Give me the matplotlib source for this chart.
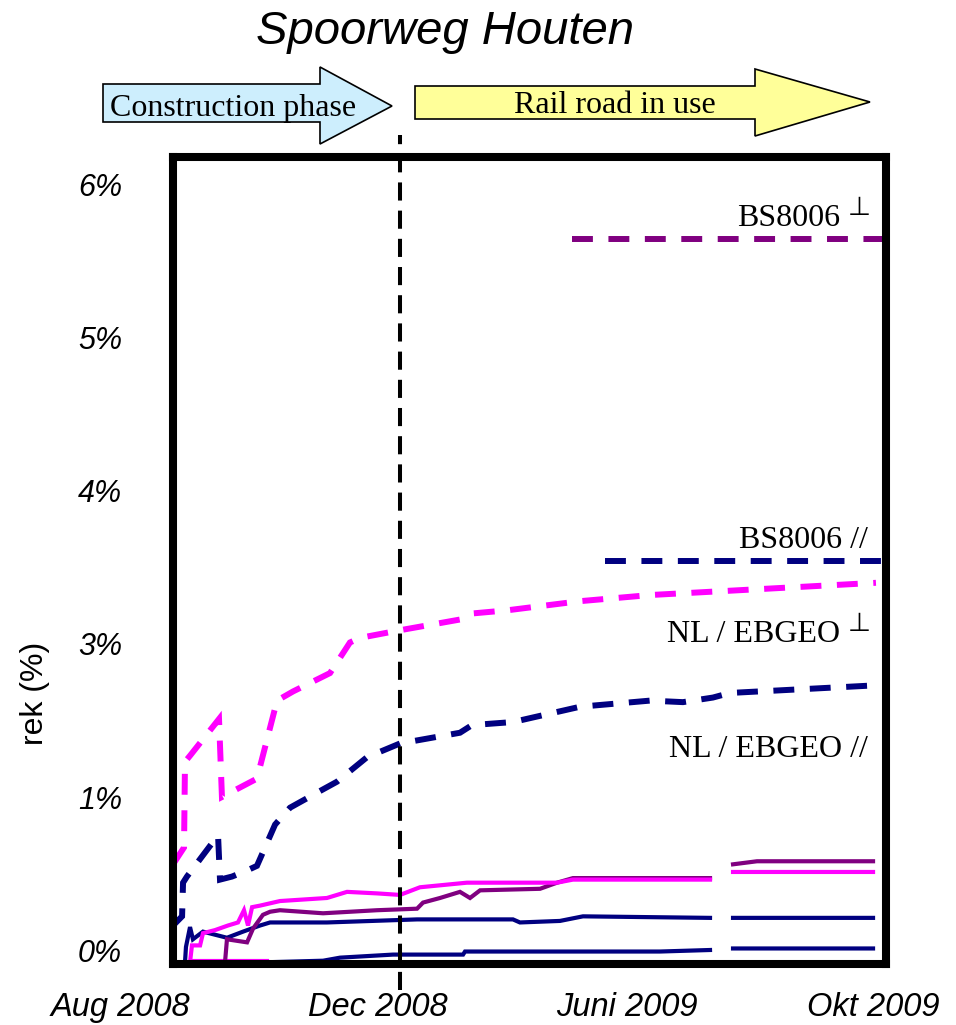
import numpy as np
import matplotlib
matplotlib.use('Agg')
import matplotlib.pyplot as plt
from matplotlib.patches import Polygon
from matplotlib.transforms import Affine2D

# ---------------- data (x: days since start of monitoring, y: rek in plot units) -------------
y_tick_labels = ['0%', '1%', '3%', '4%', '5%', '6%']
x_tick_pos = [-32.7, 126.5, 280.2, 432.0]
x_tick_labels = ['Aug 2008', 'Dec 2008', 'Juni 2009', 'Okt 2009']
phase_boundary = 140.1          # start of "Rail road in use"

# design values (dashed)
t_ebgeo_perp = [0.0, 6.8, 7.4, 10.5, 28.4, 30.2, 51.8, 64.2, 74.1, 96.9, 109.2, 115.4,
                140.1, 177.1, 185.1, 206.1, 251.2, 294.4, 433.8]
rek_ebgeo_perp = [0.56, 0.67, 1.23, 1.27, 1.51, 1.00, 1.12, 1.63, 1.69, 1.81, 2.01, 2.04,
                  2.09, 2.16, 2.20, 2.22, 2.28, 2.32, 2.40]
t_ebgeo_par = [0.0, 5.6, 6.2, 8.6, 27.8, 29.0, 36.4, 45.7, 51.8, 63.0, 72.2, 92.6, 101.2,
               119.7, 140.1, 177.1, 184.5, 209.8, 251.2, 294.4, 314.7, 333.2, 343.7, 433.8]
rek_ebgeo_par = [0.16, 0.22, 0.44, 0.48, 0.75, 0.46, 0.48, 0.52, 0.55, 0.82, 0.93, 1.05, 1.10,
                 1.26, 1.35, 1.42, 1.47, 1.49, 1.59, 1.63, 1.62, 1.65, 1.68, 1.73]
bs_start = [246.2, 266.6]       # BS8006 perp, BS8006 //
bs_end = [440.0, 440.0]
bs_value = [4.65, 2.54]

# measured strains (solid)
t_meas_purple = [0.0, 32.1, 33.3, 45.7, 49.4, 55.5, 59.9, 66.0, 92.6, 125.9, 150.6, 154.3,
                 164.8, 177.1, 183.3, 189.5, 226.5, 237.0, 246.8, 331.4, np.nan, 345.6, 360.4, 432.0]
rek_meas_purple = [-0.08, -0.08, 0.07, 0.05, 0.14, 0.23, 0.25, 0.26, 0.24, 0.26, 0.27, 0.31,
                   0.34, 0.38, 0.34, 0.39, 0.40, 0.44, 0.47, 0.47, np.nan, 0.56, 0.58, 0.58]
t_meas_magenta = [10.5, 11.7, 16.7, 18.5, 25.9, 33.9, 40.1, 43.8, 46.3, 48.8, 53.7, 66.0, 95.0,
                  107.4, 125.9, 140.1, 152.4, 181.4, 237.0, 246.8, 331.4, np.nan, 345.6, 432.0]
rek_meas_magenta = [-0.08, 0.03, 0.03, 0.11, 0.13, 0.16, 0.18, 0.26, 0.16, 0.28, 0.29, 0.32, 0.34,
                    0.38, 0.37, 0.36, 0.41, 0.44, 0.44, 0.46, 0.46, np.nan, 0.51, 0.51]
t_meas_magenta_low = [11.7, 58.0]
rek_meas_magenta_low = [-0.07, -0.07]
t_meas_navy_a = [7.4, 8.0, 10.5, 12.3, 18.5, 33.3, 43.2, 53.7, 59.9, 74.1, 95.0, 150.6, 209.8,
                 214.1, 238.8, 253.0, 331.4, np.nan, 345.6, 432.0]
rek_meas_navy_a = [-0.08, 0.02, 0.15, 0.07, 0.12, 0.08, 0.12, 0.16, 0.18, 0.18, 0.18, 0.20, 0.20,
                   0.18, 0.19, 0.22, 0.21, np.nan, 0.21, 0.21]
t_meas_navy_b = [58.0, 92.6, 103.1, 135.8, 179.0, 180.2, 300.5, 331.4, np.nan, 345.6, 432.0]
rek_meas_navy_b = [-0.08, -0.07, -0.05, -0.03, -0.03, -0.01, -0.01, 0.0, np.nan, 0.01, 0.01]

# right-hand labels
label_texts = ['BS8006', 'BS8006 //', 'NL / EBGEO', 'NL / EBGEO //']
label_y = [4.73, 2.63, 2.01, 1.26]
label_perp = [True, False, True, False]

MAGENTA = '#ff00ff'
NAVY = '#000080'
PURPLE = '#800080'
SANS = ['Liberation Sans', 'DejaVu Sans']
SERIF = ['Liberation Serif', 'DejaVu Serif']

W, H = 956, 1025
fig = plt.figure(figsize=(W / 100, H / 100), dpi=100)
px = Affine2D().scale(1 / W, -1 / H).translate(0, 1) + fig.transFigure

ax = fig.add_axes([173 / W, 1 - 964 / H, (886 - 173) / W, (964 - 157) / H])
ax.set_xlim(0, 440)
ax.set_ylim(-0.0915, 5.183)
for s in ax.spines.values():
    s.set_linewidth(5.8)
    s.set_color('black')
    s.set_zorder(5)

ax.set_xticks([])
ax.set_yticks(range(len(y_tick_labels)))
ax.set_yticklabels(y_tick_labels, fontstyle='italic', fontsize=22, family=SANS)
ax.tick_params(axis='y', length=0, pad=36.7)

# dashed design curves
dash_kw = dict(lw=4.3, dashes=(3.5, 2.6), dash_capstyle='butt', dash_joinstyle='miter')
ax.plot(t_ebgeo_perp, rek_ebgeo_perp, color=MAGENTA, **dash_kw)
ax.plot(t_ebgeo_par, rek_ebgeo_par, color=NAVY, **dash_kw)
ax.plot([bs_start[0], bs_end[0]], [bs_value[0]] * 2, color=PURPLE, **dash_kw)
ax.plot([bs_start[1], bs_end[1]], [bs_value[1]] * 2, color=NAVY, **dash_kw)

# measured curves
sol_kw = dict(lw=3.0, solid_joinstyle='miter')
ax.plot(t_meas_magenta_low, rek_meas_magenta_low, color=MAGENTA, **sol_kw)
ax.plot(t_meas_navy_b, rek_meas_navy_b, color=NAVY, **sol_kw)
ax.plot(t_meas_navy_a, rek_meas_navy_a, color=NAVY, **sol_kw)
ax.plot(t_meas_purple, rek_meas_purple, color=PURPLE, **sol_kw)
ax.plot(t_meas_magenta, rek_meas_magenta, color=MAGENTA, **sol_kw)

# phase boundary
ax.plot([phase_boundary, phase_boundary], [-0.032, 1.027], transform=ax.get_xaxis_transform(),
        color='black', lw=2.9, dashes=(4.5, 2.5), dash_capstyle='butt', clip_on=False, zorder=6)

# x tick labels
for xp, lab in zip(x_tick_pos, x_tick_labels):
    ax.text(xp, -0.0644, lab, transform=ax.get_xaxis_transform(), ha='center', va='baseline',
            fontsize=23.5, fontstyle='italic', family=SANS, clip_on=False)

# right-hand labels
for txt, yv, perp in zip(label_texts, label_y, label_perp):
    if perp:
        ax.text(411.6, yv, txt, ha='right', va='baseline', fontsize=23, family=SERIF)
        ax.text(430.6, yv + 0.075, '\u22a5', ha='right', va='baseline', fontsize=19,
                family=['DejaVu Sans'])
    else:
        ax.text(428.9, yv, txt, ha='right', va='baseline', fontsize=23, family=SERIF)

# y label
fig.text(35 / W, 1 - 693 / H, 'rek (%)', rotation=90, ha='center', va='center',
         fontsize=23, family=SANS)

# title
fig.text(445, 44, 'Spoorweg Houten', transform=px, ha='center', va='baseline',
         fontsize=34, fontstyle='italic', family=SANS)

# phase arrows
def arrow(x0, xh, xt, yb0, yb1, yh0, yh1, yt, color):
    pts = [(x0, yb0), (xh, yb0), (xh, yh0), (xt, yt), (xh, yh1), (xh, yb1), (x0, yb1)]
    fig.patches.append(Polygon(pts, closed=True, transform=px, facecolor=color,
                               edgecolor='black', lw=1.2))

arrow(103, 320, 392, 84, 122, 67, 144, 106, '#cdeefd')
arrow(415, 755, 870, 86, 119, 69, 136, 102, '#ffff99')
fig.text(233, 116, 'Construction phase', transform=px, ha='center', va='baseline',
         fontsize=23, family=SERIF)
fig.text(615, 113, 'Rail road in use', transform=px, ha='center', va='baseline',
         fontsize=23, family=SERIF)

fig.savefig('out.png', dpi=100)
